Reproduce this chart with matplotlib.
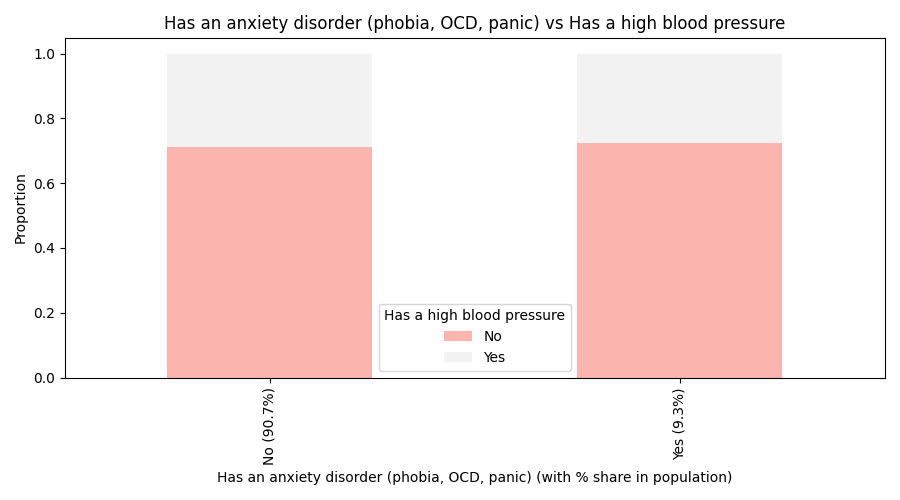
import matplotlib
matplotlib.use('Agg')
import matplotlib.pyplot as plt
import numpy as np

categories = ['No (90.7%)', 'Yes (9.3%)']
share_no = [0.712, 0.725]
share_yes = [0.288, 0.275]
legend_labels = ['No', 'Yes']
colors = ['#fbb4ae', '#f2f2f2']

fig, ax = plt.subplots(figsize=(9, 5), dpi=100)
x = np.arange(len(categories))
ax.bar(x, share_no, width=0.5, color=colors[0], label=legend_labels[0])
ax.bar(x, share_yes, width=0.5, bottom=share_no, color=colors[1], label=legend_labels[1])
ax.set_xticks(x)
ax.set_xticklabels(categories, rotation=90)
ax.set_xlim(-0.5, 1.5)
ax.set_title('Has an anxiety disorder (phobia, OCD, panic) vs Has a high blood pressure')
ax.set_xlabel('Has an anxiety disorder (phobia, OCD, panic) (with % share in population)')
ax.set_ylabel('Proportion')
ax.legend(title='Has a high blood pressure', loc='lower center')
fig.subplots_adjust(left=0.072, right=0.983, top=0.925, bottom=0.245)
fig.savefig('out.png')
